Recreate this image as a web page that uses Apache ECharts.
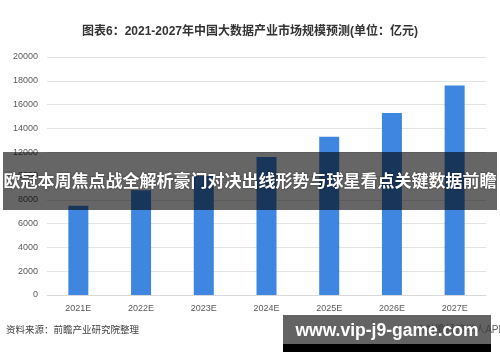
<!DOCTYPE html>
<html>
<head>
<meta charset="utf-8">
<script src="https://cdn.jsdelivr.net/npm/echarts@6/dist/echarts.min.js"></script>
<style>html,body{margin:0;padding:0;background:#fff;}#c{width:500px;height:362px;}</style>
</head>
<body>
<div id="c"></div>
<script>
const categories = ['2021E','2022E','2023E','2024E','2025E','2026E','2027E'];
const marketSize = [7500, 8800, 10000, 11600, 13300, 15300, 17600];
const yTicks = [0, 2000, 4000, 6000, 8000, 10000, 12000, 14000, 16000, 18000, 20000];

const titleText = '图表6：2021-2027年中国大数据产业市场规模预测(单位：亿元)';
const sourceText = '资料来源：前瞻产业研究院整理';
const creditText = '@前瞻经济学人APP';
const bannerText = '欧冠本周焦点战全解析豪门对决出线形势与球星看点关键数据前瞻';
const urlText = 'www.vip-j9-game.com';

const chart = echarts.init(document.getElementById('c'));
const font = '"Liberation Sans", "Noto Sans CJK SC", sans-serif';
chart.setOption({
  animation: false,
  backgroundColor: '#ffffff',
  textStyle: { fontFamily: font },
  title: {
    text: titleText,
    left: 'center',
    top: 21,
    textStyle: { fontSize: 12, fontWeight: 'bold', color: '#333333', fontFamily: font }
  },
  grid: { left: 47, right: 14, top: 57, bottom: 67 },
  xAxis: {
    type: 'category',
    data: categories,
    axisLine: { lineStyle: { color: '#d9d9d9' } },
    axisTick: { show: false },
    axisLabel: { color: '#595959', fontSize: 9, margin: 9 }
  },
  yAxis: {
    type: 'value',
    min: yTicks[0],
    max: yTicks[yTicks.length - 1],
    interval: yTicks[1] - yTicks[0],
    axisLine: { show: false },
    axisTick: { show: false },
    splitLine: { lineStyle: { color: '#e3e3e3' } },
    axisLabel: { color: '#595959', fontSize: 9, margin: 9, formatter: v => String(v) }
  },
  series: [{
    type: 'bar',
    data: marketSize,
    barWidth: 20,
    itemStyle: { color: '#3e86e0' }
  }],
  graphic: [
    { type: 'text', left: 6, top: 326, z: 10,
      style: { text: sourceText, fontSize: 9.5, fill: '#404040', fontFamily: font } },
    { type: 'text', left: 415, top: 325, z: 10,
      style: { text: creditText, fontSize: 10, fill: '#595959', fontFamily: font } },
    { type: 'rect', shape: { x: 3, y: 152, width: 494, height: 58 }, z: 100,
      style: { fill: 'rgba(0,0,0,0.6)' } },
    { type: 'text', x: 250, y: 182, z: 101,
      style: { text: bannerText, fontSize: 17, fontWeight: 'bold', fill: '#ffffff',
               align: 'center', verticalAlign: 'middle', fontFamily: font,
               textShadowColor: 'rgba(0,0,0,0.5)', textShadowBlur: 2 } },
    { type: 'rect', shape: { x: 283, y: 315, width: 208, height: 29 }, z: 100,
      style: { fill: 'rgba(60,60,60,0.8)' } },
    { type: 'rect', shape: { x: 283, y: 344, width: 208, height: 8 }, z: 100,
      style: { fill: '#000000' } },
    { type: 'text', x: 387, y: 331, z: 101,
      style: { text: urlText, fontSize: 17.5, fontWeight: 'bold', fill: '#ffffff',
               align: 'center', verticalAlign: 'middle', fontFamily: font } }
  ]
});
</script>
</body>
</html>
